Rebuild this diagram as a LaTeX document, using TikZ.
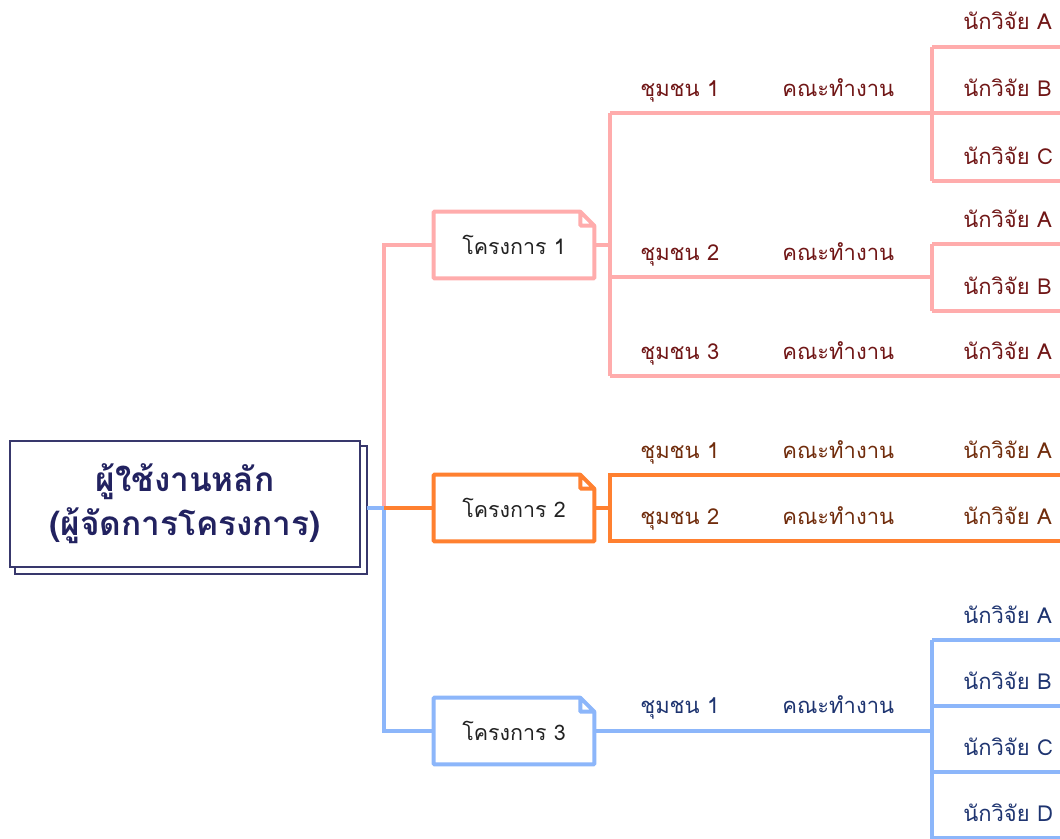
\documentclass[tikz,border=0pt]{standalone}
\usepackage{fontspec}
\newfontfamily\thaifont[Script=Thai]{Loma}
\usetikzlibrary{positioning}
\usetikzlibrary{backgrounds}
\usetikzlibrary{calc}
\definecolor{rootline}{RGB}{56,56,108}
\definecolor{roottext}{RGB}{34,34,96}
\definecolor{pinkline}{RGB}{255,172,172}
\definecolor{orangeline}{RGB}{255,128,48}
\definecolor{blueline}{RGB}{140,182,250}
\definecolor{pinktext}{RGB}{112,22,22}
\definecolor{orangetext}{RGB}{112,44,12}
\definecolor{bluetext}{RGB}{30,52,112}
\definecolor{projtext}{RGB}{34,34,34}

\begin{document}
\begin{tikzpicture}[x=0.02cm,y=-0.02cm,
    rootbox/.style={draw=rootline,line width=1pt,fill=white,minimum width=7cm,minimum height=2.52cm,
        align=center,text=roottext,font=\thaifont\fontsize{19}{25}\selectfont\bfseries},
    projbox/.style={minimum width=3.2cm,minimum height=1.32cm,text=projtext,
        font=\thaifont\fontsize{12.2}{14}\selectfont},
    lbl/.style={anchor=base west,inner sep=0pt,font=\thaifont\fontsize{12.5}{15}\selectfont},
    link/.style={line width=2.2pt}]
            \useasboundingbox (0,0) rectangle (1060,838);
            \clip (0,0) rectangle (1060,838);

            % root and its shadow copy
            \node[rootbox] (root) at (185,504) {ผู้ใช้งานหลัก\\(ผู้จัดการโครงการ)};
            \begin{scope}[on background layer]
                \draw[rootline, line width=1pt, fill=white] ($(root.north west)+(6,6)$) rectangle ($(root.south east)+(6,6)$);
            \end{scope}

            % projects
            \node[projbox] (p1) at (514,245) {โครงการ 1};
            \node[projbox] (p2) at (514,508) {โครงการ 2};
            \node[projbox] (p3) at (514,731) {โครงการ 3};
            \foreach \p/\c in {p1/pinkline,p2/orangeline,p3/blueline}
                \draw[link,\c,line join=round] (\p.south west) -- (\p.north west) -- ($(\p.north east)+(-14,0)$) -- ($(\p.north east)+(0,14)$) -- (\p.south east) -- cycle
                    ($(\p.north east)+(-14,0)$) |- ($(\p.north east)+(0,14)$);

            \coordinate (bus) at (384,508);
            \draw[link,pinkline] (bus) |- (p1.west);
            \draw[link,blueline] ($(root.east |- bus)+(6,0)$) -- (bus) |- (p3.west);
            \draw[link,orangeline] (bus) -- (p2.west);

            % project 1
            \coordinate (c11) at (610,113);
            \coordinate (c12) at (610,277);
            \coordinate (c13) at (610,376);
            \coordinate (w11) at (932,113);
            \coordinate (w12) at (932,277);
            \draw[link,pinkline] (p1.east) -- (p1.east -| c11);
            \draw[link,pinkline] (c11) -- (c13);
            \draw[link,pinkline] (c11) -- (w11);
            \draw[link,pinkline] (c12) -- (w12);
            \draw[link,pinkline] (932,47) -- (932,181);
            \draw[link,pinkline] (932,244) -- (932,311);
            \foreach \y in {47,113,181,244,311,376} {
                \coordinate (e\y) at (1070,\y);
                \draw[link,pinkline] (e\y -| w11) -- (e\y);
            }
            \draw[link,pinkline] (c13) -- (e376);

            \node[lbl,pinktext] (g11) at (640,96) {ชุมชน 1};
            \node[lbl,pinktext] (t11) at (782,96) {คณะทำงาน};
            \node[lbl,pinktext] (r11a) at (963,30) {นักวิจัย A};
            \node[lbl,pinktext] (r11b) at (963,96) {นักวิจัย B};
            \node[lbl,pinktext] (r11c) at (963,164) {นักวิจัย C};
            \node[lbl,pinktext] (g12) at (640,260) {ชุมชน 2};
            \node[lbl,pinktext] (t12) at (782,260) {คณะทำงาน};
            \node[lbl,pinktext] (r12a) at (963,227) {นักวิจัย A};
            \node[lbl,pinktext] (r12b) at (963,294) {นักวิจัย B};
            \node[lbl,pinktext] (g13) at (640,359) {ชุมชน 3};
            \node[lbl,pinktext] (t13) at (782,359) {คณะทำงาน};
            \node[lbl,pinktext] (r13a) at (963,359) {นักวิจัย A};

            % project 2
            \coordinate (c21) at (610,475);
            \coordinate (c22) at (610,541);
            \draw[link,orangeline] (p2.east) -- (p2.east -| c21);
            \draw[link,orangeline] (1070,475) -- (c21) -- (c22) -- (1070,541);

            \node[lbl,orangetext] (g21) at (640,458) {ชุมชน 1};
            \node[lbl,orangetext] (t21) at (782,458) {คณะทำงาน};
            \node[lbl,orangetext] (r21a) at (963,458) {นักวิจัย A};
            \node[lbl,orangetext] (g22) at (640,524) {ชุมชน 2};
            \node[lbl,orangetext] (t22) at (782,524) {คณะทำงาน};
            \node[lbl,orangetext] (r22a) at (963,524) {นักวิจัย A};

            % project 3
            \coordinate (w31) at (932,731);
            \draw[link,blueline] (p3.east) -- (w31);
            \draw[link,blueline] (932,640) -- (932,850);
            \foreach \y in {640,706,772,838}
                \draw[link,blueline] (932,\y) -- (1070,\y);

            \node[lbl,bluetext] (g31) at (640,713) {ชุมชน 1};
            \node[lbl,bluetext] (t31) at (782,713) {คณะทำงาน};
            \node[lbl,bluetext] (r31a) at (963,623) {นักวิจัย A};
            \node[lbl,bluetext] (r31b) at (963,689) {นักวิจัย B};
            \node[lbl,bluetext] (r31c) at (963,755) {นักวิจัย C};
            \node[lbl,bluetext] (r31d) at (963,821) {นักวิจัย D};

            \end{tikzpicture}
\end{document}
